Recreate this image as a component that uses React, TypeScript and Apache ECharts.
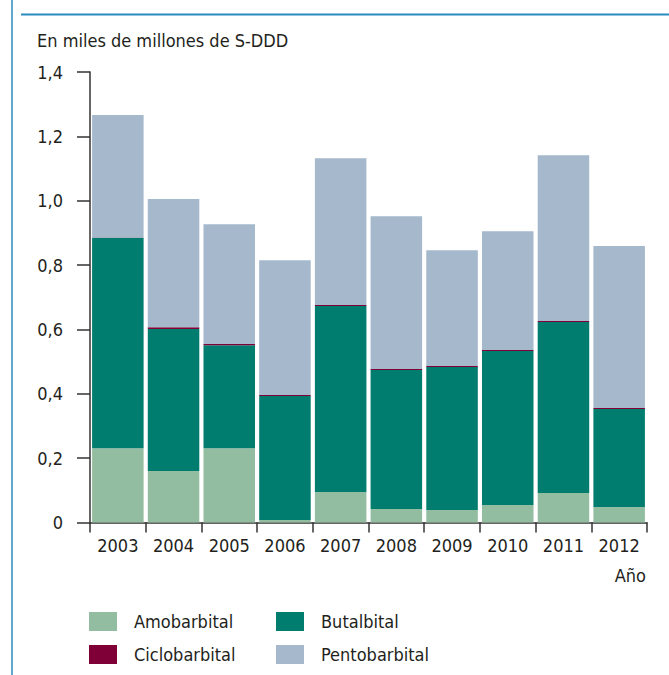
import React, { useEffect, useRef } from "react";
import * as echarts from "echarts";

const years = ["2003", "2004", "2005", "2006", "2007", "2008", "2009", "2010", "2011", "2012"];
const amobarbital = [0.231, 0.16, 0.231, 0.008, 0.095, 0.042, 0.039, 0.054, 0.092, 0.048];
const butalbital = [0.654, 0.441, 0.32, 0.385, 0.578, 0.432, 0.444, 0.479, 0.531, 0.305];
const ciclobarbital = [0.001, 0.006, 0.004, 0.003, 0.003, 0.003, 0.003, 0.003, 0.003, 0.003];
const pentobarbital = [0.38, 0.398, 0.372, 0.419, 0.456, 0.475, 0.36, 0.369, 0.515, 0.503];

const FONT = "'DejaVu Sans Condensed', 'Liberation Sans Narrow', sans-serif";
const TEXT = "#231f20";
const AXIS = "#333333";
const BLUE = "#2a8cbf";
const FS = 18;

export default function App() {
  const ref = useRef<HTMLDivElement>(null);

  useEffect(() => {
    document.body.style.margin = "0";
    if (!ref.current) return;
    const chart = echarts.init(ref.current, undefined, { renderer: "svg" });
    const bar = (name: string, data: number[], color: string) => ({
      name,
      type: "bar",
      stack: "total",
      data,
      barCategoryGap: "7.5%",
      itemStyle: { color },
      emphasis: { disabled: true },
    });
    const legendBase = {
      orient: "vertical",
      top: 612,
      itemWidth: 28,
      itemHeight: 19,
      itemGap: 14,
      padding: 0,
      icon: "rect",
      selectedMode: false,
      textStyle: { color: TEXT, fontSize: FS, fontFamily: FONT, padding: [0, 0, 0, 12] },
    };
    chart.setOption({
      animation: false,
      textStyle: { fontFamily: FONT },
      grid: { left: 90, right: 22, top: 72, bottom: 152.5, containLabel: false },
      xAxis: {
        type: "category",
        data: years,
        boundaryGap: true,
        axisLine: { lineStyle: { color: AXIS, width: 1.5 } },
        axisTick: { show: true, length: 10, alignWithLabel: false, interval: 0, lineStyle: { color: AXIS, width: 1.5 } },
        axisLabel: { color: TEXT, fontSize: FS, fontFamily: FONT, margin: 14, interval: 0 },
      },
      yAxis: {
        type: "value",
        min: 0,
        max: 1.4,
        interval: 0.2,
        splitLine: { show: false },
        axisLine: { show: true, lineStyle: { color: AXIS, width: 1.5 } },
        axisTick: { show: true, length: 13, lineStyle: { color: AXIS, width: 1.5 } },
        axisLabel: {
          color: TEXT,
          fontSize: FS,
          fontFamily: FONT,
          margin: 27,
          formatter: (v: number) => (v === 0 ? "0" : v.toFixed(1).replace(".", ",")),
        },
      },
      legend: [
        { ...legendBase, data: ["Amobarbital", "Ciclobarbital"], left: 89 },
        { ...legendBase, data: ["Butalbital", "Pentobarbital"], left: 276 },
      ],
      graphic: [
        { type: "line", shape: { x1: 12, y1: 0, x2: 12, y2: 675 }, style: { stroke: BLUE, lineWidth: 1.5 } },
        { type: "line", shape: { x1: 21, y1: 14.5, x2: 669, y2: 14.5 }, style: { stroke: BLUE, lineWidth: 2 } },
        {
          type: "text",
          x: 37,
          y: 40,
          style: { text: "En miles de millones de S-DDD", fill: TEXT, font: `${FS}px ${FONT}`, textVerticalAlign: "middle" },
        },
        {
          type: "text",
          x: 646,
          y: 575,
          style: { text: "Año", fill: TEXT, font: `${FS}px ${FONT}`, textAlign: "right", textVerticalAlign: "middle" },
        },
      ],
      series: [
        bar("Amobarbital", amobarbital, "#93bda0"),
        bar("Butalbital", butalbital, "#007d6e"),
        bar("Ciclobarbital", ciclobarbital, "#7f0037"),
        bar("Pentobarbital", pentobarbital, "#a5b8cc"),
      ],
    });
    return () => chart.dispose();
  }, []);

  return <div ref={ref} style={{ width: 669, height: 675 }} />;
}
